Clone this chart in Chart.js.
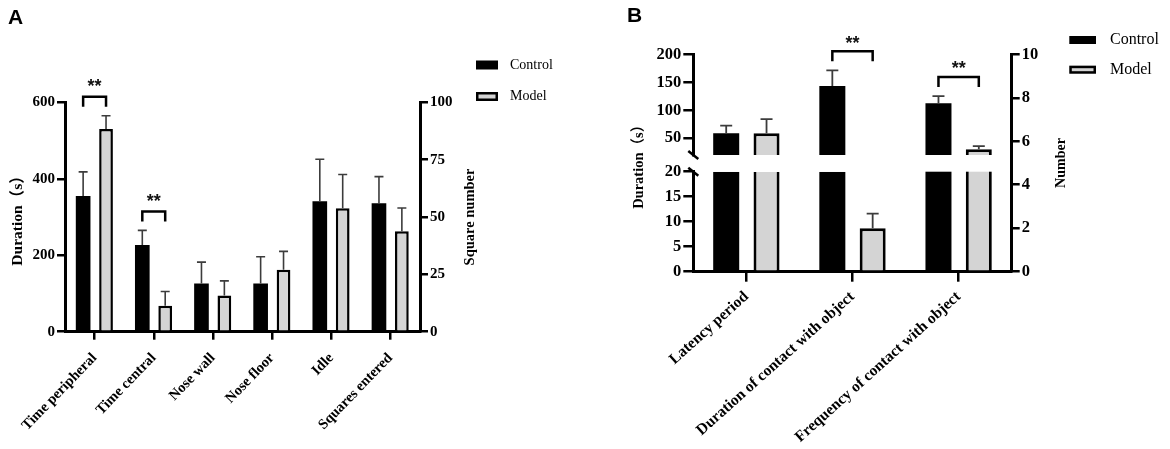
<!DOCTYPE html>
<html>
<head>
<meta charset="utf-8">
<script src="https://cdn.jsdelivr.net/npm/chart.js@4.4.1/dist/chart.umd.min.js"></script>
<style>
html, body { margin: 0; padding: 0; background: #fff; }
#tela { position: relative; width: 1170px; height: 449px; overflow: hidden; }
.painel { position: absolute; top: 0; height: 449px; }
#painelA { left: 0; width: 600px; }
#painelB { left: 600px; width: 570px; }
.letra { position: absolute; font-family: 'Liberation Sans', Arial, sans-serif; font-weight: bold; font-size: 21px; line-height: 1; }
</style>
</head>
<body>
<div id="tela">
    <div class="painel" id="painelA"><canvas id="graficoA"></canvas></div>
    <div class="painel" id="painelB"><canvas id="graficoB"></canvas></div>
    <div class="letra" style="left:8px; top:6px;">A</div>
    <div class="letra" style="left:627px; top:4px;">B</div>
</div>

<script>

// ---- painel A: open field ----
const categoriasA = ['Time peripheral', 'Time central', 'Nose wall', 'Nose floor', 'Idle', 'Squares entered'];
const controleA = [355, 227, 126, 126, 341, 56];
const controleErroA = [63, 38, 56, 70, 110, 11.6];
const modeloA = [530, 68, 95, 162, 323, 43.8];
const modeloErroA = [35, 37, 38, 48, 88, 10.1];
// true = valor lido no eixo da direita (Square number)
const eixoDireitoA = [false, false, false, false, false, true];
const ticksDuracaoA = [0, 200, 400, 600];
const ticksQuadradosA = [0, 25, 50, 75, 100];
const significanciaA = [0, 1];

// ---- painel B: novel object ----
const categoriasB = ['Latency period', 'Duration of contact with object', 'Frequency of contact with object'];
const controleB = [59, 143.4, 7.75];
const controleErroB = [13.5, 28, 0.33];
const modeloB = [59, 8.7, 5.63];
const modeloErroB = [25, 2.9, 0.15];
const eixoDireitoB = [false, false, true];
const quebraB = 20;
const ticksBaixoB = [0, 5, 10, 15, 20];
const ticksAltoB = [50, 100, 150, 200];
const ticksNumeroB = [0, 2, 4, 6, 8, 10];
const significanciaB = [1, 2];

const serif = "'Liberation Serif', 'Times New Roman', 'Noto Sans CJK SC', serif";
const cinza = '#d4d4d4';

Chart.defaults.font.family = serif;
Chart.defaults.color = '#000';

function fonte(tamanho){
    return { family: serif, weight: 'bold', size: tamanho };
}

function eixoY(posicao, min, max, ticks, titulo, tamanho, largura, traco, tamanhoTitulo){
    return {
        position: posicao,
        min: min,
        max: max,
        stacked: false,
        afterBuildTicks: (s) => { s.ticks = ticks.map(v => ({ value: v })); },
        afterFit: (s) => { s.width = largura; },
        border: { display: true, color: '#000', width: 3 },
        grid: { display: true, drawOnChartArea: false, drawTicks: true, tickLength: traco, lineWidth: 2.5, tickWidth: 2.5, tickColor: '#000' },
        ticks: { color: '#000', font: fonte(tamanho), padding: 2, autoSkip: false },
        title: { display: !!titulo, text: titulo, color: '#000', font: fonte(tamanhoTitulo || tamanho) }
    };
}

function eixoX(tamanho, altura, traco, giro, espaco){
    return {
        offset: true,
        afterFit: (s) => { s.height = altura; },
        border: { display: true, color: '#000', width: 3 },
        grid: { display: true, offset: false, drawOnChartArea: false, tickLength: traco, lineWidth: 2.5, tickWidth: 2.5, tickColor: '#000' },
        ticks: { color: '#000', font: fonte(tamanho), minRotation: giro, maxRotation: giro, autoSkip: false, padding: espaco }
    };
}

function topoComErro(chart, i, j){
    const ds = chart.data.datasets[i];
    const v = ds.data[j];
    if (v === null || v === undefined) return null;
    const topo = Array.isArray(v) ? v[1] : v;
    const e = ds.erros && ds.erros[j] ? ds.erros[j] : 0;
    return chart.scales[ds.yAxisID].getPixelForValue(topo + e);
}

// faixa branca da quebra do eixo (painel B)
const quebraEixo = {
    id: 'quebraEixo',
    afterDatasetsDraw(chart){
        const g = chart.scales.yGap;
        if (!g) return;
        const area = chart.chartArea;
        const ctx = chart.ctx;
        ctx.save();
        ctx.fillStyle = '#fff';
        ctx.fillRect(area.left + 2, g.top, area.right - area.left - 4, g.bottom - g.top);
        ctx.strokeStyle = '#000';
        ctx.lineWidth = 2.5;
        [g.top, g.bottom].forEach(y => {
            ctx.beginPath();
            ctx.moveTo(area.left - 5, y - 4);
            ctx.lineTo(area.left + 5, y + 4);
            ctx.stroke();
        });
        ctx.restore();
    }
};

const barrasErro = {
    id: 'barrasErro',
    afterDatasetsDraw(chart, args, op){
        const ctx = chart.ctx;
        ctx.save();
        ctx.strokeStyle = op.cor;
        ctx.lineWidth = op.espessura;
        chart.data.datasets.forEach((ds, i) => {
            if (!ds.erros) return;
            const meta = chart.getDatasetMeta(i);
            const escala = chart.scales[ds.yAxisID];
            ds.erros.forEach((e, j) => {
                const v = ds.data[j];
                if (e === null || v === null) return;
                const topo = Array.isArray(v) ? v[1] : v;
                const x = meta.data[j].x;
                const y0 = escala.getPixelForValue(topo);
                const y1 = escala.getPixelForValue(topo + e);
                ctx.beginPath();
                ctx.moveTo(x, y0);
                ctx.lineTo(x, y1);
                ctx.moveTo(x - op.capa / 2, y1);
                ctx.lineTo(x + op.capa / 2, y1);
                ctx.stroke();
            });
        });
        ctx.restore();
    }
};

const colchetes = {
    id: 'colchetes',
    afterDatasetsDraw(chart, args, op){
        const ctx = chart.ctx;
        ctx.save();
        ctx.strokeStyle = '#000';
        ctx.lineWidth = 2.5;
        ctx.fillStyle = '#111';
        ctx.textAlign = 'center';
        ctx.textBaseline = 'alphabetic';
        ctx.font = 'bold ' + op.tamanho + "px 'Liberation Sans', Arial, sans-serif";
        op.indices.forEach(j => {
            let xa = null, xb = null, topo = Infinity;
            chart.data.datasets.forEach((ds, i) => {
                const t = topoComErro(chart, i, j);
                if (t === null) return;
                topo = Math.min(topo, t);
                const x = chart.getDatasetMeta(i).data[j].x;
                if (ds.stack === 'controle') xa = x; else xb = x;
            });
            const pe = topo - 9;
            const alto = pe - 10;
            ctx.beginPath();
            ctx.moveTo(xa, pe);
            ctx.lineTo(xa, alto);
            ctx.lineTo(xb, alto);
            ctx.lineTo(xb, pe);
            ctx.stroke();
            ctx.fillText('**', (xa + xb) / 2, alto - op.distancia + op.tamanho * 0.57);
        });
        ctx.restore();
    }
};

const legendaManual = {
    id: 'legendaManual',
    afterDraw(chart, args, op){
        const ctx = chart.ctx;
        ctx.save();
        ctx.font = op.tamanho + 'px ' + serif;
        ctx.textBaseline = 'middle';
        ctx.textAlign = 'left';
        let n = 0;
        chart.data.datasets.forEach(ds => {
            if (!ds.naLegenda) return;
            const y = op.y + n * op.passo;
            ctx.fillStyle = ds.backgroundColor;
            ctx.fillRect(op.x, y - op.alt / 2, op.larg, op.alt);
            if (ds.borderColor === '#000' && ds.backgroundColor !== '#000'){
                ctx.strokeStyle = '#000';
                ctx.lineWidth = 2.5;
                ctx.strokeRect(op.x + 1.25, y - op.alt / 2 + 1.25, op.larg - 2.5, op.alt - 2.5);
            }
            ctx.fillStyle = '#000';
            ctx.fillText(ds.label, op.xTexto, y);
            n++;
        });
        ctx.restore();
    }
};

const tituloDireito = {
    id: 'tituloDireito',
    afterDraw(chart, args, op){
        const s = chart.scales[op.escala];
        const ctx = chart.ctx;
        ctx.save();
        ctx.translate(s.right - op.recuo, (s.top + s.bottom) / 2);
        ctx.rotate(-Math.PI / 2);
        ctx.font = 'bold ' + op.tamanho + 'px ' + serif;
        ctx.textAlign = 'center';
        ctx.textBaseline = 'middle';
        ctx.fillStyle = '#000';
        ctx.fillText(op.texto, 0, 0);
        ctx.restore();
    }
};

// ---------- grafico A ----------
const soEsquerda = (valores, direita) => valores.map((v, i) => direita[i] ? null : v);
const soDireita = (valores, direita) => valores.map((v, i) => direita[i] ? v : null);

new Chart(document.getElementById('graficoA'), {
    type: 'bar',
    data: {
        labels: categoriasA,
        datasets: [
            {
                label: 'Control', naLegenda: true, stack: 'controle', yAxisID: 'y',
                data: soEsquerda(controleA, eixoDireitoA), erros: soEsquerda(controleErroA, eixoDireitoA),
                backgroundColor: '#000', borderWidth: 0,
                categoryPercentage: 0.774, barPercentage: 0.64
            },
            {
                label: 'Model', naLegenda: true, stack: 'modelo', yAxisID: 'y',
                data: soEsquerda(modeloA, eixoDireitoA), erros: soEsquerda(modeloErroA, eixoDireitoA),
                backgroundColor: cinza, borderColor: '#000', borderWidth: 2.5,
                categoryPercentage: 0.774, barPercentage: 0.6
            },
            {
                label: 'Control', stack: 'controle', yAxisID: 'y1',
                data: soDireita(controleA, eixoDireitoA), erros: soDireita(controleErroA, eixoDireitoA),
                backgroundColor: '#000', borderWidth: 0,
                categoryPercentage: 0.774, barPercentage: 0.64
            },
            {
                label: 'Model', stack: 'modelo', yAxisID: 'y1',
                data: soDireita(modeloA, eixoDireitoA), erros: soDireita(modeloErroA, eixoDireitoA),
                backgroundColor: cinza, borderColor: '#000', borderWidth: 2.5,
                categoryPercentage: 0.774, barPercentage: 0.6
            }
        ]
    },
    options: {
        responsive: true,
        maintainAspectRatio: false,
        animation: false,
        layout: { padding: { left: 5, right: 117.6, top: 102.3, bottom: 0 } },
        scales: {
            x: eixoX(14.5, 117.3, 8, 46, 10),
            y: eixoY('left', 0, 600, ticksDuracaoA, 'Duration（s）', 15, 60, 8, 15.5),
            y1: eixoY('right', 0, 100, ticksQuadradosA, '', 15, 62.4, 8)
        },
        plugins: {
            legend: { display: false },
            tooltip: { enabled: false },
            barrasErro: { cor: '#3c3c3c', espessura: 1.6, capa: 9 },
            colchetes: { indices: significanciaA, tamanho: 18, distancia: 15 },
            legendaManual: { x: 476, y: 65, passo: 31.5, larg: 22, alt: 9, xTexto: 510, tamanho: 14 },
            tituloDireito: { escala: 'y1', texto: 'Square number', tamanho: 14.5, recuo: 12.4 }
        }
    },
    plugins: [barrasErro, colchetes, legendaManual, tituloDireito]
});

// ---------- grafico B ----------
const parteBaixa = (valores) => valores.map((v, i) => eixoDireitoB[i] ? null : Math.min(v, quebraB));
const erroBaixo = (valores, erros) => valores.map((v, i) => !eixoDireitoB[i] && v <= quebraB ? erros[i] : null);
const parteAlta = (valores) => valores.map((v, i) => !eixoDireitoB[i] && v > quebraB ? [quebraB, v] : null);
const erroAlto = (valores, erros) => valores.map((v, i) => !eixoDireitoB[i] && v > quebraB ? erros[i] : null);

const larguraPreta = { categoryPercentage: 0.76, barPercentage: 0.645, backgroundColor: '#000', borderWidth: 0 };
const larguraCinza = { categoryPercentage: 0.76, barPercentage: 0.645, backgroundColor: cinza, borderColor: '#000', borderWidth: 3 };

new Chart(document.getElementById('graficoB'), {
    type: 'bar',
    data: {
        labels: categoriasB,
        datasets: [
            Object.assign({ label: 'Control', naLegenda: true, stack: 'controle', yAxisID: 'yLow',
                data: parteBaixa(controleB), erros: erroBaixo(controleB, controleErroB) }, larguraPreta),
            Object.assign({ label: 'Model', naLegenda: true, stack: 'modelo', yAxisID: 'yLow',
                data: parteBaixa(modeloB), erros: erroBaixo(modeloB, modeloErroB) }, larguraCinza,
                { borderWidth: (c) => ({ left: 3, right: 3, bottom: 0, top: modeloB[c.dataIndex] > quebraB ? 0 : 3 }) }),
            Object.assign({ label: 'Control', stack: 'controle', yAxisID: 'yUp',
                data: parteAlta(controleB), erros: erroAlto(controleB, controleErroB) }, larguraPreta),
            Object.assign({ label: 'Model', stack: 'modelo', yAxisID: 'yUp',
                data: parteAlta(modeloB), erros: erroAlto(modeloB, modeloErroB) }, larguraCinza),
            Object.assign({ label: 'Control', stack: 'controle', yAxisID: 'yNum',
                data: soDireita(controleB, eixoDireitoB), erros: soDireita(controleErroB, eixoDireitoB) }, larguraPreta),
            Object.assign({ label: 'Model', stack: 'modelo', yAxisID: 'yNum',
                data: soDireita(modeloB, eixoDireitoB), erros: soDireita(modeloErroB, eixoDireitoB) }, larguraCinza)
        ]
    },
    options: {
        responsive: true,
        maintainAspectRatio: false,
        animation: false,
        layout: { padding: { left: 26.3, right: 95.3, top: 54.3, bottom: 0 } },
        scales: {
            x: eixoX(15.5, 177.3, 10, 42, 6),
            yLow: Object.assign(eixoY('left', 0, quebraB, ticksBaixoB, '', 16.5, 67, 10), { stack: 'duracao', stackWeight: 100 }),
            yGap: {
                position: 'left', stack: 'duracao', stackWeight: 16.7, min: 0, max: 1,
                afterFit: (s) => { s.width = 67; },
                border: { display: false },
                grid: { display: false },
                ticks: { display: false },
                title: { display: true, text: 'Duration（s）', color: '#000', font: fonte(14.5) }
            },
            yUp: Object.assign(eixoY('left', quebraB, 200, ticksAltoB, '', 16.5, 67, 10), { stack: 'duracao', stackWeight: 100.7 }),
            yNum: eixoY('right', 0, 10, ticksNumeroB, '', 16.5, 63, 8)
        },
        plugins: {
            legend: { display: false },
            tooltip: { enabled: false },
            barrasErro: { cor: '#3c3c3c', espessura: 1.8, capa: 12 },
            colchetes: { indices: significanciaB, tamanho: 18, distancia: 13 },
            legendaManual: { x: 469.3, y: 40, passo: 29.7, larg: 26.7, alt: 8, xTexto: 510, tamanho: 16 },
            tituloDireito: { escala: 'yNum', texto: 'Number', tamanho: 14, recuo: 13 }
        }
    },
    plugins: [quebraEixo, barrasErro, colchetes, legendaManual, tituloDireito]
});

</script>
</body>
</html>
